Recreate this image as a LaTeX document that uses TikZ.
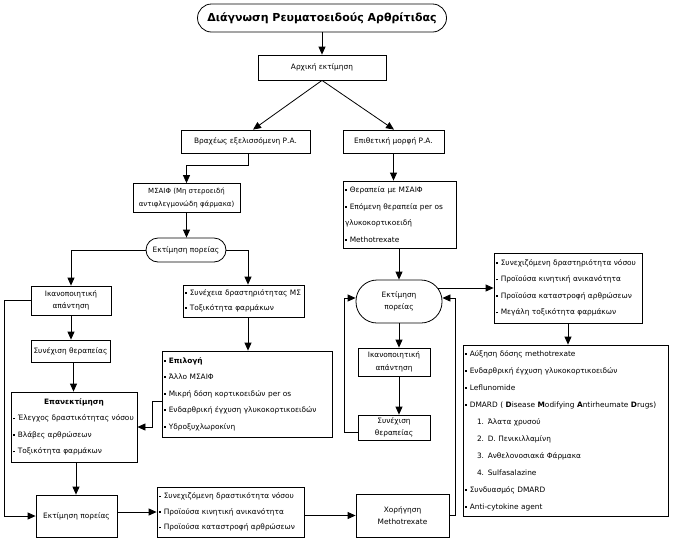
\documentclass[tikz,border=0pt]{standalone}
\usepackage{fontspec}
\setmainfont{DejaVu Sans}
\usetikzlibrary{arrows.meta}
\newcommand\bu{\rule[1.6pt]{1.6pt}{1.6pt}\hspace{3.2pt}}
\begin{document}
\begin{tikzpicture}[x=1pt,y=-1pt,
  every node/.style={font=\fontsize{7.4}{12.5}\selectfont},
  box/.style={draw, line width=0.8pt, align=center, inner sep=1pt},
  pill/.style={box, rounded corners=#1},
  pill/.default=12pt,
  sz/.style 2 args={minimum width=#1pt, minimum height=#2pt},
  listbox/.style={draw, line width=0.8pt, align=left, inner xsep=2pt, inner ysep=1pt, font=\fontsize{7.4}{16.5}\selectfont},
  arr/.style={line width=0.8pt, -{Triangle[length=8pt,width=7pt]}}]
\useasboundingbox (0,0) rectangle (674,547);

\node[pill=14pt, sz={249}{28}, font=\fontsize{11}{13}\selectfont\bfseries] (title) at (322,18) {Διάγνωση Ρευματοειδούς Αρθρίτιδας};
\node[box, sz={128}{25}] (arx) at (322,67.5) {Αρχική εκτίμηση};
\node[box, sz={129}{23}] (vrax) at (245.5,141.5) {Βραχέως εξελισσόμενη Ρ.Α.};
\node[box, sz={101}{23}] (epith) at (393.5,141.5) {Επιθετική μορφή Ρ.Α.};
\node[box, sz={107}{29}, font=\fontsize{7}{13}\selectfont] (msaif) at (186.5,198) {ΜΣΑΙΦ (Μη στεροειδή\\αντιφλεγμονώδη φάρμακα)};
\node[pill=12pt, sz={80}{24}] (pil1) at (186,250) {Εκτίμηση πορείας};
\node[box, sz={80}{29}] (ikan1) at (71,300.5) {Ικανοποιητική\\απάντηση};
\node[box, sz={79}{22}] (syn1) at (70.5,351) {Συνέχιση θεραπείας};
\node[listbox, text width=122pt, minimum height=70pt] (epan) at (74,427)
  {\makebox[122pt]{\textbf{Επανεκτίμηση}}\\ \bu Έλεγχος δραστικότητας νόσου\\ \bu Βλάβες αρθρώσεων\\ \bu Τοξικότητα φαρμάκων};
\node[listbox, text width=117pt, minimum height=32pt, font=\fontsize{7.4}{15}\selectfont] (msbox) at (243.5,301)
  {\bu Συνέχεια δραστηριότητας ΜΣ\\ \bu Τοξικότητα φαρμάκων};
\node[listbox, text width=166pt, minimum height=86pt] (epil) at (247,394)
  {\bu\textbf{Επιλογή}\\ \bu Άλλο ΜΣΑΙΦ\\ \bu Μικρή δόση κορτικοειδών per os\\ \bu Ενδαρθρική έγχυση γλυκοκορτικοειδών\\ \bu Υδροξυχλωροκίνη};
\node[box, sz={81}{42}] (est) at (76.5,516) {Εκτίμηση πορείας};
\node[listbox, text width=143pt, minimum height=50pt, font=\fontsize{7.4}{15.5}\selectfont] (mid) at (230.5,512)
  {\bu Συνεχιζόμενη δραστικότητα νόσου\\ \bu Προϊούσα κινητική ανικανότητα\\ \bu Προϊούσα καταστροφή αρθρώσεων};
\node[box, sz={93}{43}] (xor) at (402.5,515.5) {Χορήγηση\\Methotrexate};
\node[listbox, text width=109pt, minimum height=67pt] (ther) at (399.5,214.5)
  {\bu Θεραπεία με ΜΣΑΙΦ\\ \bu Επόμενη θεραπεία per os\\ γλυκοκορτικοειδή\\ \bu Methotrexate};
\node[pill=21pt, sz={86}{43}] (pil2) at (399,301.5) {Εκτίμηση\\πορείας};
\node[listbox, text width=144pt, minimum height=70pt] (bul2) at (568,288)
  {\bu Συνεχιζόμενη δραστηριότητα νόσου\\ \bu Προϊούσα κινητική ανικανότητα\\ \bu Προϊούσα καταστροφή αρθρώσεων\\ \bu Μεγάλη τοξικότητα φαρμάκων};
\node[listbox, text width=201pt, minimum height=171pt, font=\fontsize{7.4}{17}\selectfont] (big) at (565.5,430.5)
  {\bu Αύξηση δόσης methotrexate\\
   \bu Ενδαρθρική έγχυση γλυκοκορτικοειδών\\
   \bu Leflunomide\\
   \bu DMARD ( \textbf{D}isease \textbf{M}odifying \textbf{A}ntirheumate \textbf{D}rugs)\\
   \hspace*{12pt}1. Άλατα χρυσού\\
   \hspace*{12pt}2. D. Πενικιλλαμίνη\\
   \hspace*{12pt}3. Ανθελονοσιακά Φάρμακα\\
   \hspace*{12pt}4. Sulfasalazine\\
   \bu Συνδυασμός DMARD\\
   \bu Anti-cytokine agent};
\node[box, sz={72}{28}] (ikan2) at (394,362) {Ικανοποιητική\\απάντηση};
\node[box, sz={72}{25}] (syn2) at (394,427.5) {Συνέχιση\\θεραπείας};

\coordinate (pe) at ([xshift=-4.4pt]pil2.east);

\draw[arr] (title.south) -- (arx.north);
\draw[arr] (arx.south) -- ([xshift=7.5pt]vrax.north);
\draw[arr] (arx.south) -- ([xshift=0.5pt]epith.north);
\draw[arr] ([xshift=2.5pt]vrax.south) -- ++(0,12) -| (msaif.north);
\draw[arr] (msaif.south) -- (msaif.south |- pil1.north);
\draw[arr] (pil1.west) -| (ikan1.north);
\draw[arr] (pil1.east) -| ([xshift=4.5pt]msbox.north);
\draw[arr] (ikan1.south) -- (ikan1.south |- syn1.north);
\draw[arr] ([xshift=3pt]syn1.south) -- ([xshift=3pt]syn1.south |- epan.north);
\draw[arr] ([xshift=2pt]epan.south) -- ([xshift=2pt]epan.south |- est.north);
\draw[arr] (ikan1.west) -- ++(-26,0) |- (est.west);
\draw[arr] ([xshift=4.5pt]msbox.south) -- ([xshift=4.5pt]msbox.south |- epil.north);
\draw[arr] ([yshift=-7pt]epil.west) -- ++(-9,0) |- (epan.east);
\draw[arr] (est.east |- mid.west) -- (mid.west);
\draw[arr] (mid.east |- xor.west) -- (xor.west);
\draw[arr] (xor.east) -- ++(6,0) |- ([yshift=3.5pt]pil2.east);
\draw[arr] (epith.south) -- (epith.south |- ther.north);
\draw[arr] (pil2.north |- ther.south) -- (pil2.north);
\draw[arr] (pe |- bul2.west) -- (bul2.west);
\draw[arr] (pil2.south) -- (pil2.south |- ikan2.north);
\draw[arr] (pil2.south |- ikan2.south) -- (pil2.south |- syn2.north);
\draw[arr] ([yshift=-5pt]syn2.west) -- ++(-13,0) |- ([yshift=3.5pt]pil2.west);
\draw[arr] (bul2.south) -- (bul2.south |- big.north);
\end{tikzpicture}
\end{document}
